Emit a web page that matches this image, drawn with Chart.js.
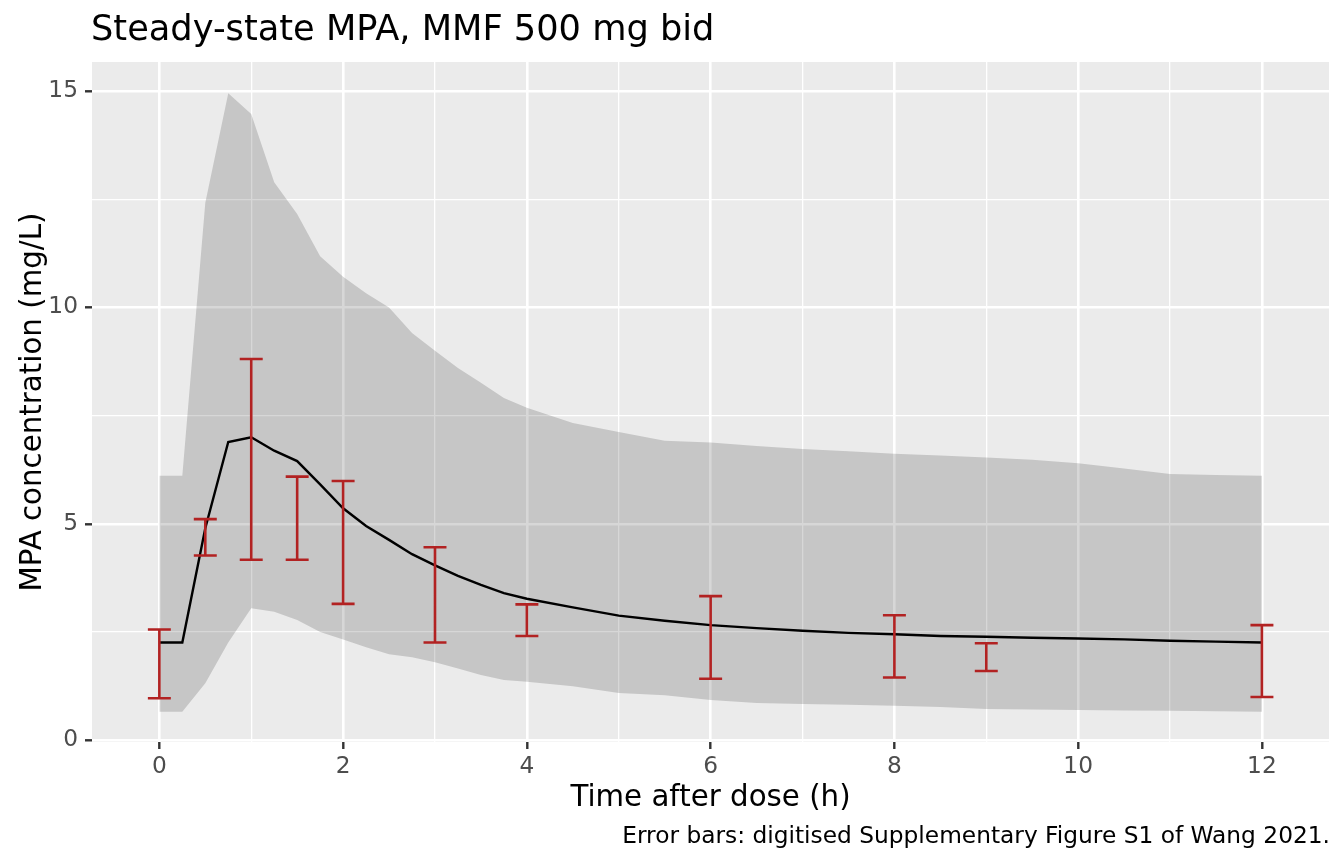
<!DOCTYPE html>
<html>
<head>
<meta charset="utf-8">
<script src="https://cdn.jsdelivr.net/npm/chart.js@4.4.1/dist/chart.umd.min.js"></script>
<style>
  html, body { margin: 0; padding: 0; background: #fff; }
  canvas { display: block; }
</style>
</head>
<body>
<canvas id="chart" width="1344" height="864"></canvas>
<script>
// simulated profile (time in h, concentration in mg/L)
const times = [0, 0.25, 0.5, 0.75, 1, 1.25, 1.5, 1.75, 2, 2.25, 2.5, 2.75, 3, 3.25, 3.5, 3.75, 4,
  4.5, 5, 5.5, 6, 6.5, 7, 7.5, 8, 8.5, 9, 9.5, 10, 10.5, 11, 11.5, 12]
const median = [2.26, 2.26, 4.9, 6.89, 7.0, 6.69, 6.45, 5.91, 5.36, 4.95, 4.63, 4.30, 4.04, 3.80, 3.59, 3.40, 3.27,
  3.07, 2.88, 2.76, 2.66, 2.59, 2.53, 2.48, 2.45, 2.41, 2.39, 2.37, 2.35, 2.33, 2.30, 2.28, 2.26]
const lower = [0.66, 0.66, 1.32, 2.26, 3.05, 2.97, 2.78, 2.50, 2.33, 2.15, 1.99, 1.92, 1.80, 1.66, 1.51, 1.39, 1.35,
  1.25, 1.09, 1.04, 0.93, 0.86, 0.84, 0.82, 0.80, 0.77, 0.72, 0.71, 0.70, 0.69, 0.68, 0.67, 0.66]
const upper = [6.11, 6.11, 12.42, 14.95, 14.47, 12.89, 12.16, 11.18, 10.71, 10.33, 10.0, 9.41, 9.0, 8.6, 8.26, 7.91, 7.68,
  7.33, 7.12, 6.92, 6.88, 6.80, 6.73, 6.68, 6.62, 6.58, 6.53, 6.48, 6.40, 6.28, 6.15, 6.13, 6.11]

// digitised observations (error bars)
const obsTime = [0, 0.5, 1, 1.5, 2, 3, 4, 6, 8, 9, 12]
const obsLow = [0.97, 4.27, 4.17, 4.17, 3.15, 2.26, 2.41, 1.42, 1.45, 1.60, 1.00]
const obsHigh = [2.56, 5.11, 8.81, 6.09, 5.99, 4.46, 3.14, 3.33, 2.89, 2.24, 2.66]

// axis ticks
const xTicks = [0, 1, 2, 3, 4, 5, 6, 7, 8, 9, 10, 11, 12]
const yTicks = [0, 2.5, 5, 7.5, 10, 12.5, 15]

const FONT = "'DejaVu Sans', sans-serif"
const pts = (ys) => times.map((t, i) => ({ x: t, y: ys[i] }))

// ggplot-like panel background and texts
const ggTheme = {
  id: 'ggTheme',
  beforeDraw (chart) {
    const { ctx, chartArea: a } = chart
    ctx.save()
    ctx.fillStyle = '#ffffff'
    ctx.fillRect(0, 0, chart.width, chart.height)
    ctx.fillStyle = '#EBEBEB'
    ctx.fillRect(a.left, a.top, a.right - a.left, a.bottom - a.top)
    ctx.restore()
  },
  afterDraw (chart) {
    const { ctx, chartArea: a } = chart
    ctx.save()
    ctx.fillStyle = '#000'
    ctx.textBaseline = 'alphabetic'

    ctx.font = '35.2px ' + FONT
    ctx.textAlign = 'left'
    ctx.fillText('Steady-state MPA, MMF 500 mg bid', a.left - 1, 40)

    ctx.font = '29.3px ' + FONT
    ctx.textAlign = 'center'
    ctx.fillText('Time after dose (h)', (a.left + a.right) / 2, 806)

    ctx.save()
    ctx.translate(41, (a.top + a.bottom) / 2)
    ctx.rotate(-Math.PI / 2)
    ctx.fillText('MPA concentration (mg/L)', 0, 0)
    ctx.restore()

    ctx.font = '23.3px ' + FONT
    ctx.textAlign = 'right'
    ctx.fillText('Error bars: digitised Supplementary Figure S1 of Wang 2021.', a.right + 1, 843)
    ctx.restore()
  }
}

// error bars drawn through the chart scales
const errorBars = {
  id: 'errorBars',
  afterDatasetsDraw (chart) {
    const { ctx, scales: { x, y } } = chart
    const half = x.getPixelForValue(0.125) - x.getPixelForValue(0)
    ctx.save()
    ctx.strokeStyle = '#B22222'
    ctx.lineWidth = 2.6
    ctx.beginPath()
    obsTime.forEach((t, i) => {
      const px = x.getPixelForValue(t)
      const lo = y.getPixelForValue(obsLow[i])
      const hi = y.getPixelForValue(obsHigh[i])
      ctx.moveTo(px, lo); ctx.lineTo(px, hi)
      ctx.moveTo(px - half, lo); ctx.lineTo(px + half, lo)
      ctx.moveTo(px - half, hi); ctx.lineTo(px + half, hi)
    })
    ctx.stroke()
    ctx.restore()
  }
}

const isMajorX = (v) => Math.abs(v % 2) < 1e-9
const isMajorY = (v) => Math.abs(v % 5) < 1e-9

new Chart(document.getElementById('chart'), {
  type: 'line',
  data: {
    datasets: [
      { data: pts(lower), borderWidth: 0, pointRadius: 0, fill: false, order: 1 },
      { data: pts(upper), borderWidth: 0, pointRadius: 0, fill: '-1', backgroundColor: 'rgba(0,0,0,0.157)', order: 1 },
      { data: pts(median), borderColor: '#000', borderWidth: 2.4, pointRadius: 0, fill: false, order: 0 }
    ]
  },
  options: {
    responsive: false,
    devicePixelRatio: 1,
    animation: false,
    layout: { padding: { top: 62, right: 15, bottom: 0, left: 0 } },
    plugins: { legend: { display: false }, tooltip: { enabled: false }, title: { display: false } },
    scales: {
      x: {
        type: 'linear',
        min: -0.733,
        max: 12.73,
        afterBuildTicks: (axis) => { axis.ticks = xTicks.map(v => ({ value: v })) },
        afterFit: (axis) => { axis.height = 122 },
        border: { display: false },
        grid: {
          color: '#fff',
          lineWidth: (c) => isMajorX(c.tick.value) ? 2.6 : 1.3,
          tickLength: 7,
          tickWidth: 2.4,
          tickColor: (c) => isMajorX(c.tick.value) ? '#333333' : 'rgba(0,0,0,0)'
        },
        ticks: {
          autoSkip: false,
          maxRotation: 0,
          padding: 4,
          color: '#4D4D4D',
          font: { family: FONT, size: 23.3 },
          callback: (v) => isMajorX(v) ? String(v) : ''
        }
      },
      y: {
        type: 'linear',
        min: -0.04,
        max: 15.67,
        afterBuildTicks: (axis) => { axis.ticks = yTicks.map(v => ({ value: v })) },
        afterFit: (axis) => { axis.width = 92 },
        border: { display: false },
        grid: {
          color: '#fff',
          lineWidth: (c) => isMajorY(c.tick.value) ? 2.6 : 1.3,
          tickLength: 7,
          tickWidth: 2.4,
          tickColor: (c) => isMajorY(c.tick.value) ? '#333333' : 'rgba(0,0,0,0)'
        },
        ticks: {
          autoSkip: false,
          padding: 7,
          color: '#4D4D4D',
          font: { family: FONT, size: 23.3 },
          callback: (v) => isMajorY(v) ? String(v) : ''
        }
      }
    }
  },
  plugins: [ggTheme, errorBars]
})
</script>
</body>
</html>
